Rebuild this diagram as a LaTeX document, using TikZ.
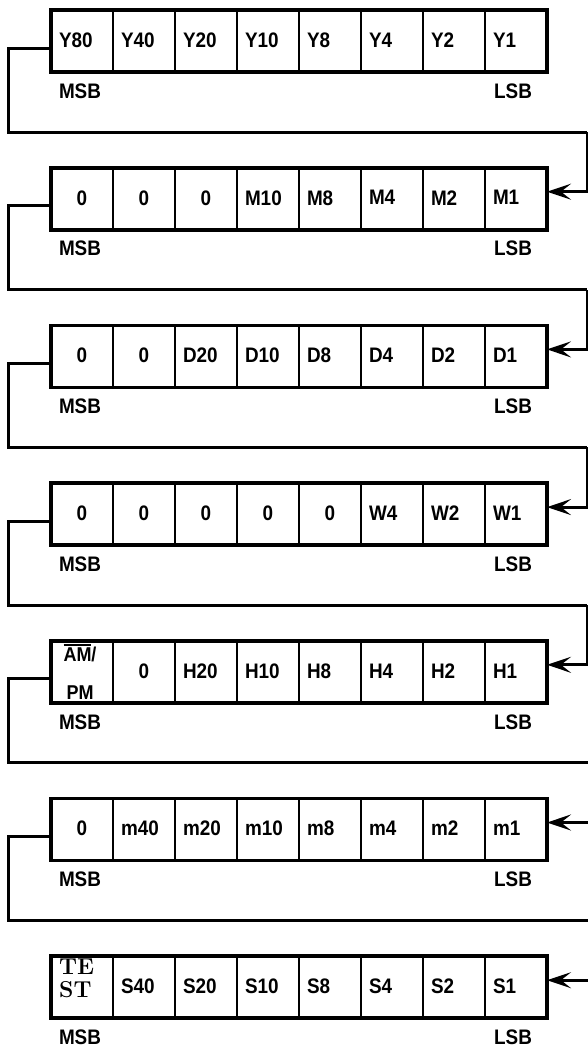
\documentclass[tikz,border=0pt]{standalone}
\usepackage{fontspec}
\setsansfont{Liberation Sans}[FakeStretch=0.9]
\usetikzlibrary{arrows.meta}
\newcommand\zc{\hfill 0\hfill\mbox{}}
\newcommand\ovl[1]{\vbox{\hrule height 1.8pt\kern 1.6pt\hbox{#1}}}
\tikzset{
  cell/.style={draw, line width=2.8pt, minimum width=62pt, minimum height=62pt,
    text width=46pt, inner xsep=8pt, inner ysep=0pt, outer sep=0pt, align=left},
  cell text/.style={yshift=2pt},
  outer/.style={draw, line width=3.6pt},
  lbl/.style={inner sep=0pt},
  conn/.style={line width=3pt, line join=miter},
  tip/.style={-{Stealth[length=24pt,width=16pt,inset=10pt]}}
}
\newcommand\regrow[9]{%
  \pgfmathsetmacro\cy{41+157.7*(#1-1)}
  \node[cell] (r#1c1) at (82,\cy) {\raisebox{2pt}{#2}};
  \node[cell] (r#1c2) at (144,\cy) {\raisebox{2pt}{#3}};
  \node[cell] (r#1c3) at (206,\cy) {\raisebox{2pt}{#4}};
  \node[cell] (r#1c4) at (268,\cy) {\raisebox{2pt}{#5}};
  \node[cell] (r#1c5) at (330,\cy) {\raisebox{2pt}{#6}};
  \node[cell] (r#1c6) at (392,\cy) {\raisebox{2pt}{#7}};
  \node[cell] (r#1c7) at (454,\cy) {\raisebox{2pt}{#8}};
  \node[cell] (r#1c8) at (516,\cy) {\raisebox{2pt}{#9}};
  \draw[outer] (r#1c1.north west) rectangle (r#1c8.south east);
  \node[lbl] (msb#1) at (80,\cy+50) {MSB};
  \node[lbl] (lsb#1) at (513,\cy+50) {LSB};
}
\newcommand\zz{\makebox[46pt]{0}}
\begin{document}
\begin{tikzpicture}[x=1pt,y=-1pt,font=\sffamily\bfseries\fontsize{21}{23}\selectfont]
\useasboundingbox (0,0) rectangle (588,1047);
\fill[white] (0,0) rectangle (588,1047);
\regrow{1}{Y80}{Y40}{Y20}{Y10}{Y8}{Y4}{Y2}{Y1}
\regrow{2}{\zz}{\zz}{\zz}{M10}{M8}{M4}{M2}{M1}
\regrow{3}{\zz}{\zz}{D20}{D10}{D8}{D4}{D2}{D1}
\regrow{4}{\zz}{\zz}{\zz}{\zz}{\zz}{W4}{W2}{W1}
\regrow{5}{}{\zz}{H20}{H10}{H8}{H4}{H2}{H1}
\regrow{6}{\zz}{m40}{m20}{m10}{m8}{m4}{m2}{m1}
\regrow{7}{}{S40}{S20}{S10}{S8}{S4}{S2}{S1}
\node[inner sep=0pt, align=center, font=\sffamily\bfseries\fontsize{20}{38}\selectfont]
  (ampm) at ([xshift=-2pt]r5c1.center) {\ovl{AM}/\\PM};
\node[inner sep=0pt, align=left, anchor=west, font=\rmfamily\bfseries\fontsize{23}{23}\selectfont]
  (test) at ([xshift=8pt,yshift=9pt]r7c1.west) {TE\\ST};
\foreach \i/\rx in {1/587,2/587,3/587,4/587,5/591,6/591}{
  \pgfmathtruncatemacro\n{\i+1}
  \pgfmathsetmacro\ly{41+157.7*(\i-1)+91}
  \coordinate (L\i) at (8,\ly);
  \coordinate (R\i) at (\rx,\ly);
  \draw[conn] ([yshift=-7pt]r\i c1.west) -| (L\i) -- (R\i);
  \draw[conn,tip] (R\i) |- ([yshift=7pt]r\n c8.east);
}
\end{tikzpicture}
\end{document}
